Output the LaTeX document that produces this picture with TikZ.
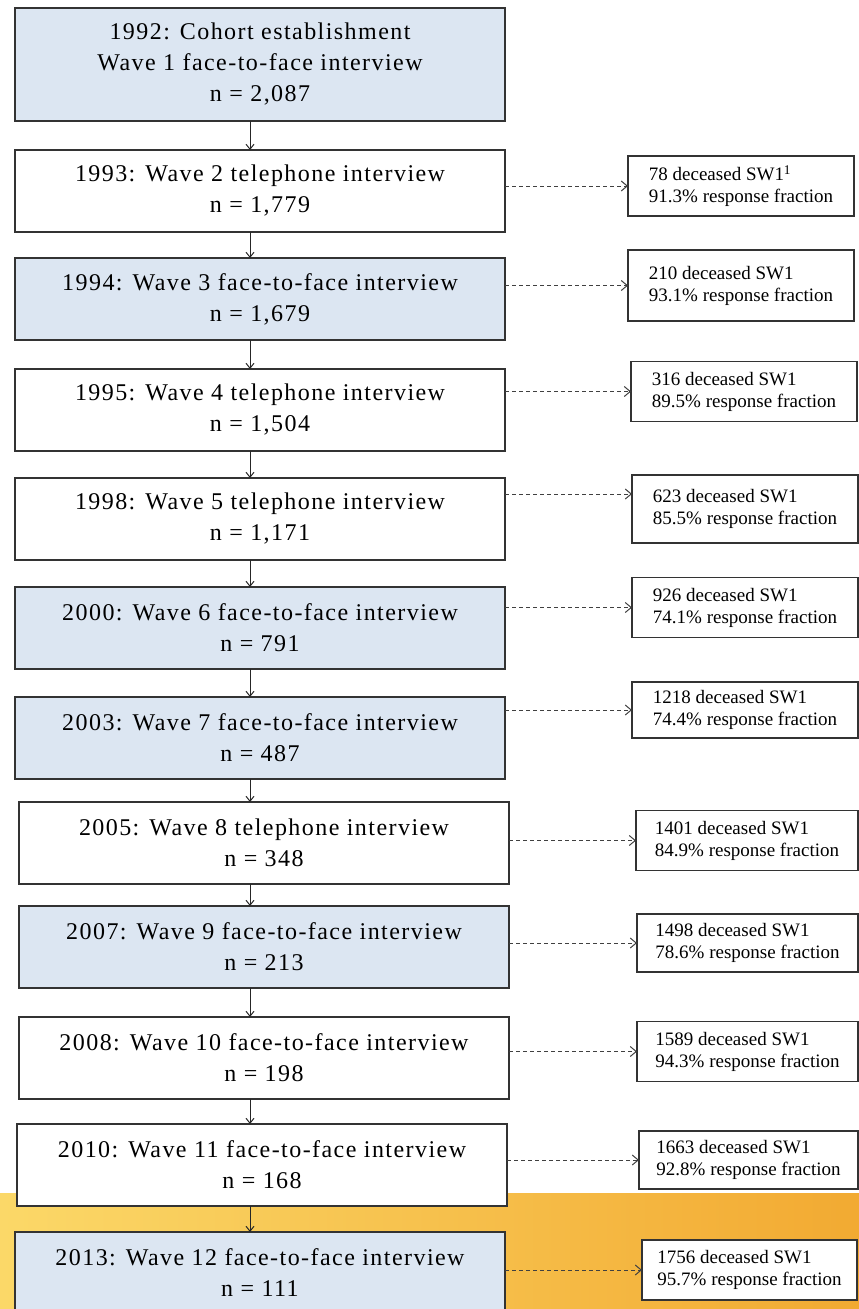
\documentclass[tikz,border=0pt]{standalone}
\usepackage{fontspec}
\setmainfont{Liberation Serif}
\newfontfamily\wavefont[LetterSpace=6]{Liberation Serif}
\usetikzlibrary{arrows.meta, positioning}
\definecolor{waveblue}{RGB}{220,230,242}
\definecolor{slideyellow}{RGB}{251,216,104}
\definecolor{slideorange}{RGB}{242,170,50}
\tikzset{
    flowchart/.style={x=1pt, y=-1pt, font=\fontsize{19}{22}\selectfont},
    wave/.style={draw=black!80, line width=1.3pt, fill=white, minimum width=490pt,
        minimum height=82pt, align=center, inner sep=2pt, outer sep=0pt,
        font=\wavefont\fontsize{24}{31}\selectfont},
    wave shaded/.style={wave, fill=waveblue},
    note/.style={draw=black!80, line width=1.1pt, fill=white, minimum width=226pt,
        minimum height=60pt, align=left, anchor=west, inner sep=2pt, outer sep=0pt},
    link/.style={-{Straight Barb[length=5pt, width=8pt]}, line width=1pt, black!85},
    % dashed arrow to the loss-to-follow-up note
    lost/.style={-{Straight Barb[length=6pt, width=10pt]}, dash pattern=on 4pt off 3pt,
        line width=1pt, black!75},
}

\begin{document}
\begin{tikzpicture}[flowchart]
    \useasboundingbox (0,0) rectangle (859,1309);
    \shade[left color=slideyellow, right color=slideorange] (0,1193) rectangle (859,1309);

    % waves
    \node[wave shaded, minimum height=113pt] (w1) at (260,64.5)
        {1992: Cohort establishment\\Wave 1 face-to-face interview\\n = 2,087};
    \node[wave, below=29pt of w1]          (w2)  {1993: Wave 2 telephone interview\\n = 1,779};
    \node[wave shaded, below=26pt of w2]   (w3)  {1994: Wave 3 face-to-face interview\\n = 1,679};
    \node[wave, below=29pt of w3]          (w4)  {1995: Wave 4 telephone interview\\n = 1,504};
    \node[wave, below=27pt of w4]          (w5)  {1998: Wave 5 telephone interview\\n = 1,171};
    \node[wave shaded, below=27pt of w5]   (w6)  {2000: Wave 6 face-to-face interview\\n = 791};
    \node[wave shaded, below=28pt of w6]   (w7)  {2003: Wave 7 face-to-face interview\\n = 487};
    \node[wave, below=23pt of w7, xshift=4pt]  (w8)  {2005: Wave 8 telephone interview\\n = 348};
    \node[wave shaded, below=22pt of w8]   (w9)  {2007: Wave 9 face-to-face interview\\n = 213};
    \node[wave, below=29pt of w9]          (w10) {2008: Wave 10 face-to-face interview\\n = 198};
    \node[wave, below=25pt of w10, xshift=-2pt] (w11) {2010: Wave 11 face-to-face interview\\n = 168};
    \node[wave shaded, below=26pt of w11, xshift=-2pt] (w12) {2013: Wave 12 face-to-face interview\\n = 111};

    % notes
    \node[note]                     (d2)  at (628,186)    {78 deceased SW1\textsuperscript{1}\\91.3\% response fraction};
    \node[note, minimum height=71pt] (d3)  at (628,285.5) {210 deceased SW1\\93.1\% response fraction};
    \node[note]                     (d4)  at (631,391.5)  {316 deceased SW1\\89.5\% response fraction};
    \node[note, minimum height=68pt] (d5)  at (632,509)   {623 deceased SW1\\85.5\% response fraction};
    \node[note]                     (d6)  at (632,607.5)  {926 deceased SW1\\74.1\% response fraction};
    \node[note, minimum height=56pt] (d7)  at (632,710)   {1218 deceased SW1\\74.4\% response fraction};
    \node[note, minimum width=222pt] (d8)  at (636,840.5) {1401 deceased SW1\\84.9\% response fraction};
    \node[note, minimum width=221pt, minimum height=58pt] (d9) at (637,943) {1498 deceased SW1\\78.6\% response fraction};
    \node[note, minimum width=221pt] (d10) at (637,1051.5) {1589 deceased SW1\\94.3\% response fraction};
    \node[note, minimum width=219pt, minimum height=58pt] (d11) at (639,1160) {1663 deceased SW1\\92.8\% response fraction};
    \node[note, minimum width=215pt] (d12) at (642,1270)  {1756 deceased SW1\\95.7\% response fraction};

    \coordinate (spine) at (250,0);
    \coordinate (d5in) at ([yshift=15pt]d5.west);

    \draw[link] (w1.south -| spine) -- (w2.north -| spine);
    \draw[link] (w2.south -| spine) -- (w3.north -| spine);
    \draw[link] (w3.south -| spine) -- (w4.north -| spine);
    \draw[link] (w4.south -| spine) -- (w5.north -| spine);
    \draw[link] (w5.south -| spine) -- (w6.north -| spine);
    \draw[link] (w6.south -| spine) -- (w7.north -| spine);
    \draw[link] (w7.south -| spine) -- (w8.north -| spine);
    \draw[link] (w8.south -| spine) -- (w9.north -| spine);
    \draw[link] (w9.south -| spine) -- (w10.north -| spine);
    \draw[link] (w10.south -| spine) -- (w11.north -| spine);
    \draw[link] (w11.south -| spine) -- (w12.north -| spine);

    \draw[lost] (w2.east |- d2.west) -- (d2.west);
    \draw[lost] (w3.east |- d3.west) -- (d3.west);
    \draw[lost] (w4.east |- d4.west) -- (d4.west);
    \draw[lost] (w5.east |- d5in) -- (d5in);
    \draw[lost] (w6.east |- d6.west) -- (d6.west);
    \draw[lost] (w7.east |- d7.west) -- (d7.west);
    \draw[lost] (w8.east |- d8.west) -- (d8.west);
    \draw[lost] (w9.east |- d9.west) -- (d9.west);
    \draw[lost] (w10.east |- d10.west) -- (d10.west);
    \draw[lost] (w11.east |- d11.west) -- (d11.west);
    \draw[lost] (w12.east |- d12.west) -- (d12.west);
\end{tikzpicture}
\end{document}
